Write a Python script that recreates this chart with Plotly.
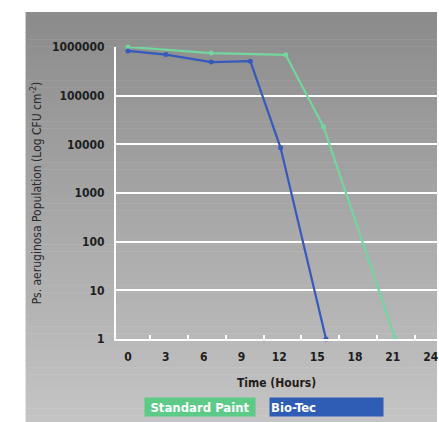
import plotly.graph_objects as go

# ---- data ----
std_hours = [0, 6.6, 12.5, 15.5, 21.2]
std_values = [1000000, 750000, 690000, 23000, 1]
bio_hours = [0, 3, 6.6, 9.7, 12.1, 15.7]
bio_values = [830000, 700000, 490000, 510000, 8500, 1]
x_ticks = [0, 3, 6, 9, 12, 15, 18, 21, 24]
y_ticks = [1, 10, 100, 1000, 10000, 100000, 1000000]
y_tick_labels = ["1", "10", "100", "1000", "10000", "100000", "1000000"]
series_names = ["Standard Paint", "Bio-Tec"]

W, H = 439, 422
L, R, T, B = 116, 0, 47, 83
PW, PH = W - L - R, H - T - B

def px(xp):
    return (xp - L) / PW

def py(yp):
    return (H - B - yp) / PH

GREEN = "#72d69e"
BLUE = "#3659bd"
FONT = "DejaVu Sans Condensed, Liberation Sans Narrow, sans-serif"

fig = go.Figure()
fig.add_trace(go.Scatter(x=std_hours, y=std_values, mode="lines+markers", name=series_names[0],
                         line=dict(color=GREEN, width=2.2), marker=dict(size=5, color=GREEN),
                         cliponaxis=False, showlegend=False))
fig.add_trace(go.Scatter(x=bio_hours, y=bio_values, mode="lines+markers", name=series_names[1],
                         line=dict(color=BLUE, width=2.2), marker=dict(size=5, color=BLUE),
                         cliponaxis=False, showlegend=False))

# gradient grey panel (decoration)
shapes = []
n = 60
top_c = (140, 140, 140)
bot_c = (196, 196, 196)
y_top, y_bot = 12, H
for i in range(n):
    f = i / (n - 1)
    c = tuple(int(top_c[k] + (bot_c[k] - top_c[k]) * f) for k in range(3))
    yp0 = y_top + (y_bot - y_top) * i / n
    yp1 = y_top + (y_bot - y_top) * (i + 1) / n + 0.5
    shapes.append(dict(type="rect", xref="paper", yref="paper", layer="below",
                       x0=px(25), x1=px(W), y0=py(yp1), y1=py(yp0),
                       fillcolor="rgb(%d,%d,%d)" % c, line=dict(width=0)))

annotations = [
    dict(text="<b>%s</b>" % series_names[0], xref="paper", yref="paper", x=px(201), y=py(407),
         xanchor="center", yanchor="middle", showarrow=False, bgcolor="#5ccb88",
         width=108, height=16, font=dict(family=FONT, size=13, color="white")),
    dict(text="<b>%s</b>" % series_names[1], xref="paper", yref="paper", x=px(327.5), y=py(407),
         xanchor="center", yanchor="middle", showarrow=False, bgcolor="#2f5cb5", align="left",
         width=111, height=16, font=dict(family=FONT, size=13, color="white")),
]

fig.update_layout(
    width=W, height=H,
    margin=dict(l=L, r=R, t=T, b=B),
    paper_bgcolor="white",
    plot_bgcolor="rgba(0,0,0,0)",
    shapes=shapes,
    annotations=annotations,
    font=dict(family=FONT, color="#1e1e1e"),
    xaxis=dict(range=[-0.95, 24.5], tickvals=x_ticks, ticktext=["<b>%d</b>" % v for v in x_ticks],
               showgrid=False, zeroline=False, showline=True, linecolor="white", linewidth=2,
               ticks="", ticklabelstandoff=6, ticklabeloverflow="allow",
               tickfont=dict(family=FONT, size=12, color="#1e1e1e"),
               minor=dict(tickvals=[1.75 + 3 * k for k in range(8)], ticks="inside", ticklen=4,
                          tickcolor="white", tickwidth=2, showgrid=False),
               title=dict(text="<b>Time (Hours)</b>", font=dict(family=FONT, size=12, color="#1e1e1e"),
                          standoff=15)),
    yaxis=dict(type="log", range=[0, 6], tickvals=y_ticks, ticktext=["<b>%s</b>" % t for t in y_tick_labels],
               showgrid=True, gridcolor="white", gridwidth=2, zeroline=False,
               showline=True, linecolor="white", linewidth=2, ticks="", ticklabelstandoff=7,
               tickfont=dict(family=FONT, size=12, color="#1e1e1e"),
               title=dict(text="Ps. aeruginosa Population (Log CFU cm<sup>-2</sup>)",
                          font=dict(family=FONT, size=12, color="#2a2a2a"), standoff=8)),
)

fig.write_html("out.html", config={"displayModeBar": False},
               post_script="document.body.style.margin='0';document.body.style.overflow='hidden';")
